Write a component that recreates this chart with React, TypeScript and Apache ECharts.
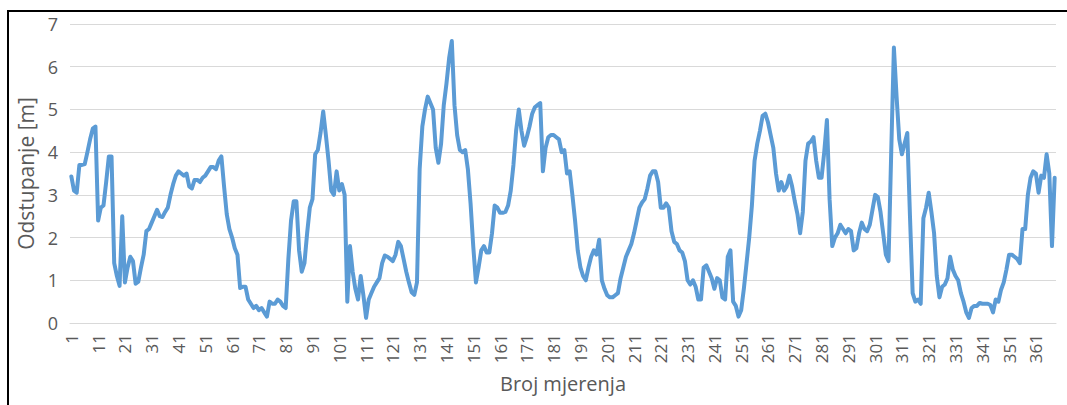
import React, { useEffect, useRef } from "react";
import * as echarts from "echarts";

// Odstupanje [m] per measurement (Broj mjerenja 1..368), split in segments
const seg1 = [3.43, 3.1, 3.05, 3.7, 3.7, 3.72, 4.0, 4.3, 4.55, 4.6, 2.4, 2.7, 2.75, 3.3, 3.9, 3.9, 1.4, 1.1, 0.87, 2.5, 0.95, 1.3, 1.55, 1.45, 0.92, 0.97, 1.3, 1.6, 2.15, 2.2, 2.35, 2.5, 2.65, 2.5, 2.48, 2.6, 2.7, 3.0, 3.25, 3.45, 3.55, 3.5, 3.45, 3.5, 3.2, 3.15];
const seg2 = [3.35, 3.35, 3.3, 3.4, 3.45, 3.55, 3.65, 3.65, 3.6, 3.8, 3.9, 3.2, 2.55, 2.2, 2.0, 1.75, 1.6, 0.82, 0.85, 0.85, 0.55, 0.45, 0.35, 0.4, 0.3, 0.35, 0.25, 0.15, 0.5, 0.45, 0.45, 0.55, 0.5, 0.4, 0.35, 1.5, 2.4, 2.85, 2.85, 1.7, 1.2, 1.4, 2.1, 2.7, 2.9, 3.95];
const seg3 = [4.05, 4.45, 4.95, 4.4, 3.8, 3.1, 3.0, 3.55, 3.1, 3.25, 3.0, 0.5, 1.8, 1.2, 0.8, 0.55, 1.1, 0.65, 0.12, 0.55, 0.7, 0.85, 0.95, 1.05, 1.4, 1.58, 1.55, 1.5, 1.45, 1.6, 1.9, 1.8, 1.5, 1.2, 0.95, 0.72, 0.66, 0.95, 3.6, 4.6, 5.0, 5.3, 5.15, 5.0, 4.1, 3.75];
const seg4 = [4.2, 5.1, 5.6, 6.2, 6.6, 5.1, 4.4, 4.05, 4.0, 4.05, 3.6, 2.8, 1.8, 0.95, 1.3, 1.7, 1.8, 1.65, 1.65, 2.1, 2.75, 2.7, 2.58, 2.58, 2.6, 2.75, 3.1, 3.7, 4.5, 5.0, 4.5, 4.15, 4.35, 4.6, 4.9, 5.05, 5.1, 5.15, 3.55, 4.1, 4.35, 4.4, 4.4, 4.35, 4.3, 4.0];
const seg5 = [4.05, 3.5, 3.55, 3.0, 2.4, 1.7, 1.3, 1.1, 1.0, 1.3, 1.55, 1.7, 1.6, 1.95, 1.0, 0.8, 0.65, 0.6, 0.6, 0.65, 0.7, 1.05, 1.3, 1.55, 1.7, 1.85, 2.1, 2.4, 2.7, 2.82, 2.9, 3.15, 3.45, 3.55, 3.55, 3.3, 2.7, 2.7, 2.8, 2.7, 2.15, 1.9, 1.85, 1.7, 1.65, 1.45];
const seg6 = [1.0, 0.9, 1.0, 0.85, 0.55, 0.55, 1.3, 1.35, 1.2, 1.05, 0.8, 1.05, 1.0, 0.6, 0.55, 1.55, 1.7, 0.5, 0.4, 0.15, 0.3, 0.8, 1.4, 2.0, 2.75, 3.8, 4.2, 4.5, 4.85, 4.9, 4.7, 4.4, 4.1, 3.5, 3.1, 3.3, 3.1, 3.2, 3.45, 3.2, 2.85, 2.55, 2.1, 2.6, 3.8, 4.2];
const seg7 = [4.25, 4.35, 3.8, 3.4, 3.4, 4.0, 4.75, 2.9, 1.8, 2.0, 2.1, 2.3, 2.2, 2.1, 2.2, 2.15, 1.7, 1.75, 2.1, 2.35, 2.2, 2.15, 2.3, 2.65, 3.0, 2.95, 2.6, 2.1, 1.6, 1.45, 4.0, 6.45, 5.3, 4.3, 3.95, 4.2, 4.45, 2.5, 0.7, 0.5, 0.55, 0.45, 2.45, 2.7, 3.05, 2.6];
const seg8 = [2.1, 1.1, 0.6, 0.85, 0.9, 1.05, 1.55, 1.25, 1.1, 1.0, 0.7, 0.5, 0.25, 0.12, 0.35, 0.4, 0.4, 0.47, 0.45, 0.45, 0.45, 0.42, 0.25, 0.55, 0.5, 0.78, 0.95, 1.25, 1.6, 1.6, 1.55, 1.5, 1.4, 2.2, 2.2, 3.0, 3.4, 3.55, 3.5, 3.05, 3.45, 3.4, 3.95, 3.5, 1.8, 3.4];

const values = [...seg1, ...seg2, ...seg3, ...seg4, ...seg5, ...seg6, ...seg7, ...seg8];
const categories = values.map((_, i) => String(i + 1));
const yTicks = { min: 0, max: 7, interval: 1 };

const FONT = "'Open Sans', 'Liberation Sans', sans-serif";
const GRAY = "#595959";

export default function App() {
  const ref = useRef<HTMLDivElement>(null);
  useEffect(() => {
    if (!ref.current) return;
    const chart = echarts.init(ref.current, null, { renderer: "svg" });
    chart.setOption({
      animation: false,
      grid: { left: 70, right: 11, top: 24, bottom: 82, containLabel: false },
      xAxis: {
        type: "category",
        data: categories,
        boundaryGap: true,
        name: "Broj mjerenja",
        nameLocation: "middle",
        nameGap: 50,
        nameTextStyle: { color: GRAY, fontSize: 20, fontFamily: FONT },
        axisLine: { show: true, lineStyle: { color: "#d9d9d9", width: 1 } },
        axisTick: { show: false },
        axisLabel: {
          interval: (index: number) => index % 10 === 0,
          rotate: 90,
          margin: 11,
          color: GRAY,
          fontSize: 17,
          fontFamily: FONT,
        },
        splitLine: { show: false },
      },
      yAxis: {
        type: "value",
        min: yTicks.min,
        max: yTicks.max,
        interval: yTicks.interval,
        name: "Odstupanje [m]",
        nameLocation: "middle",
        nameRotate: 90,
        nameGap: 33,
        nameTextStyle: { color: GRAY, fontSize: 21, fontFamily: FONT },
        axisLine: { show: false },
        axisTick: { show: false },
        axisLabel: { color: GRAY, fontSize: 18, fontFamily: FONT, margin: 12 },
        splitLine: { show: true, lineStyle: { color: "#d9d9d9", width: 1 } },
      },
      series: [
        {
          type: "line",
          data: values,
          symbol: "none",
          smooth: false,
          lineStyle: { color: "#5b9bd5", width: 4, join: "round", cap: "round" },
        },
      ],
    });
    return () => chart.dispose();
  }, []);

  return (
    <div style={{ position: "absolute", left: 0, top: 0, width: 1067, height: 405, background: "#fff", overflow: "hidden" }}>
      <div ref={ref} style={{ position: "absolute", left: 0, top: 0, width: 1067, height: 405 }} />
      <div style={{ position: "absolute", left: 7, top: 10, width: 2, height: 395, background: "#000" }} />
      <div style={{ position: "absolute", left: 7, top: 10, width: 1060, height: 2, background: "#000" }} />
    </div>
  );
}
